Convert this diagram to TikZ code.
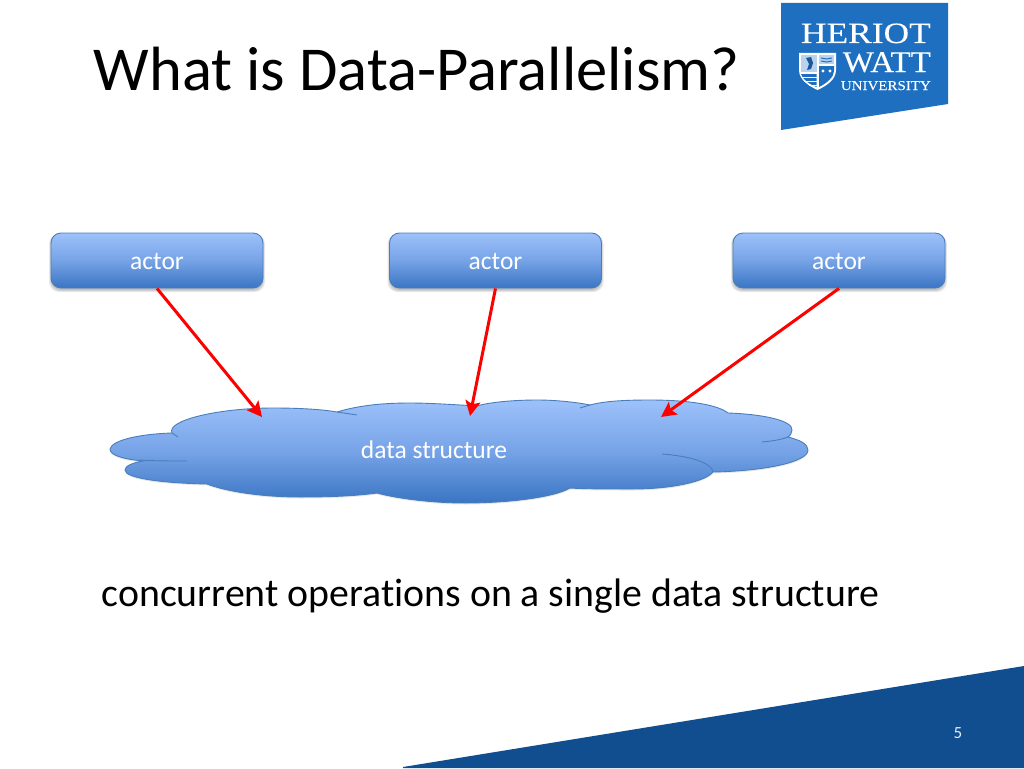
\documentclass[tikz,border=0pt]{standalone}
\usepackage{fontspec}
\setmainfont{Carlito}[RawFeature={-liga}]
\newfontfamily\logofont{Liberation Serif}[FakeBold=0.12]
\usetikzlibrary{arrows.meta}
\definecolor{logoblue}{HTML}{1F6FC0}
\definecolor{bandblue}{HTML}{104E8F}
\definecolor{gradtop}{HTML}{9DC1FA}
\definecolor{gradmid}{HTML}{76A3E7}
\definecolor{gradbot}{HTML}{3A75C3}
\definecolor{edgeblue}{HTML}{4A7EBB}
\definecolor{shieldpale}{HTML}{B9D2EE}
\tikzset{
  x=1pt,y=-1pt,
  gradfill/.style={top color=gradtop,bottom color=gradbot,middle color=gradmid},
  actorbox/.style={draw=edgeblue,line width=0.9pt,rounded corners=10pt,gradfill,minimum width=212pt,minimum height=55pt,inner sep=0pt},
  boxlabel/.style={text=white,font=\fontsize{25.5}{30}\selectfont,inner sep=0pt},
  softshadow/.style={fill=black,opacity=0.09,draw=none},
  flow/.style={draw=red,line width=3pt,-{Stealth[length=15pt,width=15pt,inset=3pt]}},
  cloudline/.style={draw=edgeblue,line width=0.9pt},
  logotext/.style={text=white,anchor=base east,inner sep=0pt},
}
\def\cloudpath{(110,449)
 .. controls (112,440) and (140,434) .. (172,433)
 .. controls (166,420) and (220,408) .. (273,408)
 .. controls (295,408) and (320,409) .. (337,412)
 .. controls (360,405) and (385,403) .. (410,403)
 .. controls (430,403) and (460,405) .. (477,406)
 .. controls (490,402) and (515,400) .. (537,400)
 .. controls (555,400) and (575,402) .. (590,405)
 .. controls (605,401) and (625,400) .. (650,400)
 .. controls (690,400) and (718,405) .. (728,413)
 .. controls (760,414) and (793,420) .. (792,430)
 .. controls (792,433) and (790,436) .. (788,437)
 .. controls (800,440) and (808,444) .. (808,450)
 .. controls (808,462) and (765,471) .. (713,472)
 .. controls (705,482) and (670,489) .. (633,489)
 .. controls (610,489) and (585,489) .. (570,488)
 .. controls (555,497) and (510,503) .. (465,503)
 .. controls (430,503) and (395,498) .. (377,493)
 .. controls (355,496) and (330,497) .. (300,497)
 .. controls (260,497) and (225,491) .. (207,484)
 .. controls (160,483) and (125,478) .. (125,470)
 .. controls (125,466) and (132,463) .. (143,461)
 .. controls (122,459) and (110,455) .. (110,449) -- cycle}
\def\shieldpath{(799,53) -- (836,53) -- (836,70) .. controls (836,80) and (826,86) .. (817.5,90) .. controls (809,86) and (799,80) .. (799,70) -- cycle}
\begin{document}
\begin{tikzpicture}
\useasboundingbox (0,0) rectangle (1024,768);
\fill[white] (0,0) rectangle (1024,768);
% logo
\fill[logoblue] (781,3) -- (948,3) -- (948,104) -- (781,130) -- cycle;
\node[logotext,font=\logofont\fontsize{29.5}{30}\selectfont,xscale=1.2] (heriot) at (931,43) {HERIOT};
\node[logotext,font=\logofont\fontsize{30}{30}\selectfont,xscale=1.1] (watt) at (931,72) {WATT};
\node[logotext,font=\logofont\fontsize{13.5}{14}\selectfont,xscale=1.11] (univ) at (931,90) {UNIVERSITY};
\fill[white] \shieldpath;
\fill[shieldpale] (801,55) -- (816.5,55) -- (816.5,72) -- (801,72) -- cycle;
\fill[logoblue!80!black] (806,58) -- (811,57) -- (813,63) -- (811,69) -- (807,70) -- (809,64) -- cycle;
\fill[shieldpale] (819,55) -- (834,55) -- (834,64) -- (819,64) -- cycle;
\draw[logoblue,line width=1pt] (821,58) -- (826.5,59) -- (832,58) (821,61) -- (826.5,62) -- (832,61);
\fill[logoblue] (819,66) -- (834,66) -- (834,71) .. controls (834,77) and (827,83) .. (819,87) -- cycle;
\fill[white] (823,71) circle[radius=1.6];
\fill[white] (830,71) circle[radius=1.6];
\fill[logoblue] (801,74) -- (816.5,74) -- (816.5,87) .. controls (809,84) and (803,80) .. (801,74) -- cycle;
\draw[white,line width=1pt] (802,77) -- (816.5,77) (804,81) -- (816.5,81) (809,85) -- (816.5,85);
% band
\fill[bandblue] (403,767) -- (1024,666) -- (1024,768) -- (403,768) -- cycle;
\node[text=white!90!bandblue,font=\fontsize{17}{20}\selectfont,inner sep=0pt] (pagenum) at (958,733) {5};
% title
\node[anchor=base west,inner sep=0pt,font=\fontsize{62.5}{70}\selectfont] (title) at (93.5,90) {What is Data-Parallelism?};
% actors
\foreach \n/\cx in {a/157,b/495.5,c/839}{
  \foreach \g in {0,1,2}{
    \fill[softshadow,rounded corners=10pt] (\cx-106-\g,234) rectangle (\cx+106+\g,290+\g);
  }
  \node[actorbox] (\n) at (\cx,260.5) {};
  \node[boxlabel] (\n label) at (\cx,261.5) {actor};
}
% cloud
\fill[softshadow] [yshift=-1.5pt] \cloudpath;
\path[gradfill] \cloudpath;
\draw[cloudline] \cloudpath;
\draw[cloudline] (172,433) -- (178,437);
\draw[cloudline] (140,460) .. controls (155,461) and (170,461) .. (187,461);
\draw[cloudline] (337,412) .. controls (344,413) and (350,414) .. (357,415);
\draw[cloudline] (580,408) -- (590,405);
\draw[cloudline] (788,437) .. controls (780,440) and (772,441) .. (762,442);
\draw[cloudline] (713,472) .. controls (712,463) and (690,456) .. (662,454);
\node[boxlabel] (cloud) at (434,449.5) {data structure};
\coordinate (ta) at (262,417);
\coordinate (tb) at (470,416);
\coordinate (tc) at (661,417);
\draw[flow] (a.south) -- (ta);
\draw[flow] (b.south) -- (tb);
\draw[flow] (c.south) -- (tc);
% caption
\node[anchor=base west,inner sep=0pt,font=\fontsize{39.8}{46}\selectfont] (caption) at (101.5,606) {concurrent operations on a single data structure};
\end{tikzpicture}
\end{document}
